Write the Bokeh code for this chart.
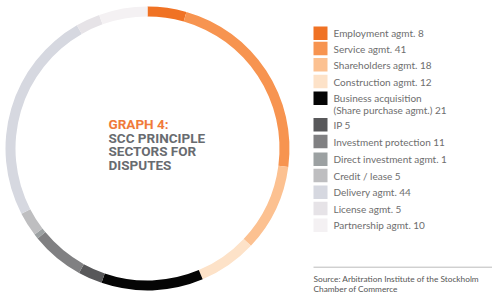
import numpy as np
from bokeh.plotting import figure
from bokeh.models import Range1d, ColumnDataSource
from bokeh.core.properties import value
from bokeh.embed import file_html
from bokeh.resources import INLINE

categories = ["Employment agmt.", "Service agmt.", "Shareholders agmt.", "Construction agmt.",
              "Business acquisition\n(Share purchase agmt.)", "IP", "Investment protection",
              "Direct investment agmt.", "Credit / lease", "Delivery agmt.", "License agmt.",
              "Partnership agmt."]
counts = [8, 41, 18, 12, 21, 5, 11, 1, 5, 44, 5, 10]
colors = ["#F07224", "#F79450", "#FCC191", "#FDE2C8", "#050505", "#58585A", "#808082",
          "#9CA1A2", "#BEBEC0", "#D6D8E0", "#E6E3E7", "#F4F1F3"]

W, H = 492, 298
p = figure(width=W, height=H, output_backend="svg", toolbar_location=None,
           x_range=Range1d(0, W), y_range=Range1d(0, H), min_border=0)
p.axis.visible = False
p.grid.visible = False
p.outline_line_color = None
p.background_fill_color = "white"
p.border_fill_color = "white"

total = float(sum(counts))
cum = np.cumsum([0] + counts)
starts = np.pi / 2 - 2 * np.pi * cum[:-1] / total
ends = np.pi / 2 - 2 * np.pi * cum[1:] / total
src = ColumnDataSource(dict(start=starts, end=ends, color=colors))
cx, cy = 147, H - 148
p.annular_wedge(x=cx, y=cy, inner_radius=132, outer_radius=142, start_angle="start",
                end_angle="end", direction="clock", fill_color="color", line_color=None,
                source=src)

# title
p.text(x=[108], y=[H - 123], text=["GRAPH 4:"], text_font=value("Roboto"),
       text_font_style="bold", text_font_size="13.5px", text_color="#F07A3A",
       text_baseline="middle")
p.text(x=[108, 108, 108], y=[H - 137, H - 150.5, H - 164],
       text=["SCC PRINCIPLE", "SECTORS FOR", "DISPUTES"], text_font=value("Roboto"),
       text_font_style="bold", text_font_size="13.5px", text_color="#686B70",
       text_baseline="middle")

# legend
row_y = [32.7, 48, 64.3, 81, 97.7, 124.3, 141, 158.7, 175, 191.7, 208, 224.7]
labels = []
for c, n in zip(categories, counts):
    labels.append(f"{c} {n}")
sq = ColumnDataSource(dict(x=[320] * len(row_y), y=[H - y for y in row_y], color=colors))
p.rect(x="x", y="y", width=14, height=13.5, fill_color="color", line_color=None, source=sq)
for lab, y in zip(labels, row_y):
    lines = lab.split("\n")
    for k, ln in enumerate(lines):
        p.text(x=[333], y=[H - (y + k * 11.5)], text=[ln], text_font=value("Lato"),
               text_font_size="10px", text_color="#6E6E6E", text_baseline="middle")

p.segment(x0=[313], y0=[H - 266.7], x1=[492], y1=[H - 266.7], line_color="#BBBBBB",
          line_width=1)
p.text(x=[313, 313], y=[H - 278, H - 288.5],
       text=["Source: Arbitration Institute of the Stockholm", "Chamber of Commerce"],
       text_font=value("Lato"), text_font_size="8.3px", text_color="#555555",
       text_baseline="middle")

open("out.html", "w").write(file_html(p, INLINE))
